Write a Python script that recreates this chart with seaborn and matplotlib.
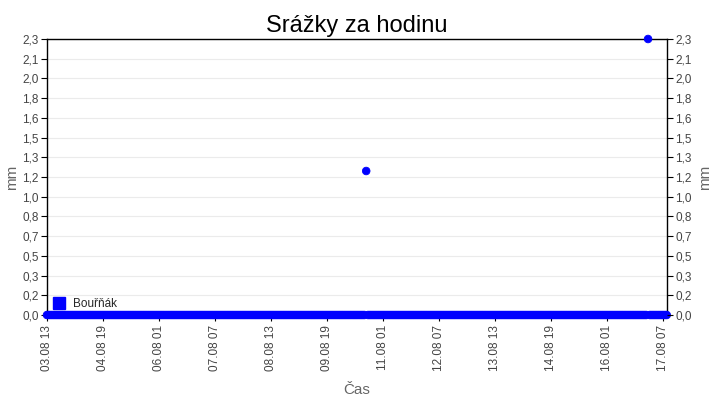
import numpy as np
import pandas as pd
import matplotlib
matplotlib.use("Agg")
import matplotlib.pyplot as plt
import seaborn as sns
from matplotlib.lines import Line2D

# ---- data ----
start_time = "2023-08-03 13:00"
end_time = "2023-08-17 09:00"
event_times = ["2023-08-10 16:00", "2023-08-16 23:00"]
event_values = [1.2, 2.3]
series_name = "Bouřňák"
y_tick_labels = ["0,0", "0,2", "0,3", "0,5", "0,7", "0,8", "1,0", "1,2",
                 "1,3", "1,5", "1,6", "1,8", "2,0", "2,1", "2,3"]
x_tick_labels = ["03.08 13", "04.08 19", "06.08 01", "07.08 07", "08.08 13", "09.08 19",
                 "11.08 01", "12.08 07", "13.08 13", "14.08 19", "16.08 01", "17.08 07"]

times = pd.date_range(start_time, end_time, freq="h")
values = pd.Series(0.0, index=times)
values.loc[pd.to_datetime(event_times)] = event_values
df = pd.DataFrame({"Čas": times, "mm": values.values, "stanice": series_name})

sns.set_theme(style="white")
plt.rcParams["font.family"] = ["Liberation Sans", "DejaVu Sans"]

fig = plt.figure(figsize=(7.2, 4.0), dpi=100)
ax = fig.add_axes([0.0653, 0.2125, 0.8607, 0.69])

ymax = max(event_values)
yticks = np.linspace(0, ymax, len(y_tick_labels))
for yt in yticks[1:]:
    ax.axhline(yt, color="#ebebeb", lw=0.8, zorder=0)

sns.scatterplot(data=df, x="Čas", y="mm", hue="stanice", palette=["#0000ff"],
                s=30, edgecolor="#0000ff", linewidth=0.6, marker="o",
                ax=ax, clip_on=False, zorder=3, legend=False)

ax.set_xlim(times[0], times[-1])
ax.set_ylim(0, ymax)
ax.set_yticks(yticks)
ax.set_yticklabels(y_tick_labels)
xticks = pd.date_range(start_time, periods=len(x_tick_labels), freq="30h")
ax.set_xticks(xticks)
ax.set_xticklabels(x_tick_labels, rotation=90)

for sp in ax.spines.values():
    sp.set_color("black")
    sp.set_linewidth(1.0)

ax.tick_params(axis="both", which="major", length=4, width=0.8, color="black",
               labelsize=8.5, labelcolor="#444444", direction="out", pad=2)
ax.tick_params(axis="y", left=True)
ax.tick_params(axis="x", bottom=True, pad=3)

ax.set_xlabel("Čas", fontsize=11, color="#666666", labelpad=9)
ax.set_ylabel("mm", fontsize=11, color="#666666", labelpad=2)
ax.set_title("Srážky za hodinu", fontsize=17, color="black", pad=5)

ax2 = ax.twinx()
ax2.set_ylim(0, ymax)
ax2.set_yticks(yticks)
ax2.set_yticklabels(y_tick_labels)
ax2.tick_params(axis="y", length=4, width=0.8, color="black", labelsize=8.5,
                labelcolor="#444444", direction="out", pad=2, right=True)
ax2.set_ylabel("mm", fontsize=11, color="#666666", labelpad=5)
for sp in ax2.spines.values():
    sp.set_visible(False)

handle = Line2D([], [], marker="s", color="#0000ff", ls="", markersize=8)
ax.legend([handle], [series_name], loc="lower left", frameon=False, fontsize=8.5,
          handletextpad=0.6, borderaxespad=0.1, borderpad=0.3, handlelength=1.2,
          bbox_to_anchor=(0.0, 0.0))

fig.savefig("out.png", dpi=100)
